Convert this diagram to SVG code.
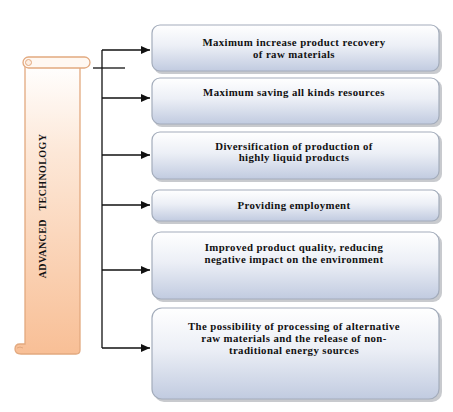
<svg xmlns="http://www.w3.org/2000/svg" width="453" height="412" viewBox="0 0 453 412">
<defs>
<linearGradient id="gBox" x1="0" y1="0" x2="0" y2="1">
<stop offset="0" stop-color="#ffffff"/>
<stop offset="0.45" stop-color="#eceff6"/>
<stop offset="1" stop-color="#c1cbe0"/>
</linearGradient>
<linearGradient id="gScroll" x1="0" y1="0" x2="0" y2="1">
<stop offset="0" stop-color="#ffffff"/>
<stop offset="0.3" stop-color="#fde8d8"/>
<stop offset="1" stop-color="#f8bf96"/>
</linearGradient>
<marker id="arr" markerWidth="9" markerHeight="8" refX="9" refY="4" orient="auto" markerUnits="userSpaceOnUse">
<path d="M0,0 L9,4 L0,8 Z" fill="#111"/>
</marker>
</defs>
<style>
.box{fill:url(#gBox);stroke:#a3acbb;stroke-width:1.2}
.shadow{fill:#9a9ea6;opacity:0.55}
.lbl{font-family:"Liberation Serif","Times New Roman",serif;font-weight:bold;font-size:10.8px;fill:#111;text-anchor:middle;letter-spacing:0.4px}
.con{stroke:#111;stroke-width:1.3;fill:none}
</style>
<rect width="453" height="412" fill="#ffffff"/>

<g id="scroll">
<path d="M25,64 L80,64 L80,350 Q80,354 76,354 L21,354 Q15,354 15,349 Q15,344 20,344 L25,344 Z" fill="url(#gScroll)" stroke="#e2a97f" stroke-width="1.3"/>
<rect x="23" y="57" width="67" height="11" rx="5.5" fill="#fff8f2" stroke="#e2a97f" stroke-width="1.3"/>
<circle cx="28.5" cy="62.5" r="3" fill="#fdeee2" stroke="#e2a97f" stroke-width="1"/>
<path d="M17,348 Q20,346 23,348" fill="none" stroke="#e2a97f" stroke-width="1"/>
<text class="lbl" transform="translate(45.5,206) rotate(-90)" style="font-size:10px;word-spacing:6px;letter-spacing:0.4px">ADVANCED TECHNOLOGY</text>
</g>

<g id="connectors">
<line class="con" x1="93" y1="68" x2="125" y2="68"/>
<line class="con" x1="102" y1="50" x2="102" y2="348"/>
<line class="con" x1="102" y1="50" x2="150" y2="50" marker-end="url(#arr)"/>
<line class="con" x1="102" y1="98" x2="150" y2="98" marker-end="url(#arr)"/>
<line class="con" x1="102" y1="155" x2="150" y2="155" marker-end="url(#arr)"/>
<line class="con" x1="102" y1="205" x2="150" y2="205" marker-end="url(#arr)"/>
<line class="con" x1="102" y1="270" x2="150" y2="270" marker-end="url(#arr)"/>
<line class="con" x1="102" y1="348" x2="150" y2="348" marker-end="url(#arr)"/>
</g>

<g id="n1">
<rect class="shadow" x="154" y="27" width="288" height="47" rx="8"/>
<rect class="box" x="152" y="25" width="287" height="46" rx="8"/>
<text class="lbl" x="294" y="46">Maximum increase product recovery</text>
<text class="lbl" x="294" y="58">of raw materials</text>
</g>

<g id="n2">
<rect class="shadow" x="154" y="80" width="288" height="47" rx="8"/>
<rect class="box" x="152" y="78" width="287" height="46" rx="8"/>
<text class="lbl" x="294" y="96">Maximum saving all kinds resources</text>
</g>

<g id="n3">
<rect class="shadow" x="154" y="134" width="288" height="48" rx="8"/>
<rect class="box" x="152" y="132" width="287" height="47" rx="8"/>
<text class="lbl" x="294" y="150">Diversification of production of</text>
<text class="lbl" x="294" y="161">highly liquid products</text>
</g>

<g id="n4">
<rect class="shadow" x="154" y="192" width="288" height="32" rx="7"/>
<rect class="box" x="152" y="190" width="287" height="31" rx="7"/>
<text class="lbl" x="294" y="209">Providing employment</text>
</g>

<g id="n5">
<rect class="shadow" x="154" y="234" width="288" height="68" rx="9"/>
<rect class="box" x="152" y="232" width="287" height="67" rx="9"/>
<text class="lbl" x="294" y="251">Improved product quality, reducing</text>
<text class="lbl" x="294" y="263">negative impact on the environment</text>
</g>

<g id="n6">
<rect class="shadow" x="154" y="310" width="288" height="92" rx="10"/>
<rect class="box" x="152" y="308" width="287" height="91" rx="10"/>
<text class="lbl" x="294" y="330">The possibility of processing of alternative</text>
<text class="lbl" x="294" y="342">raw materials and the release of non-</text>
<text class="lbl" x="294" y="354">traditional energy sources</text>
</g>
</svg>
